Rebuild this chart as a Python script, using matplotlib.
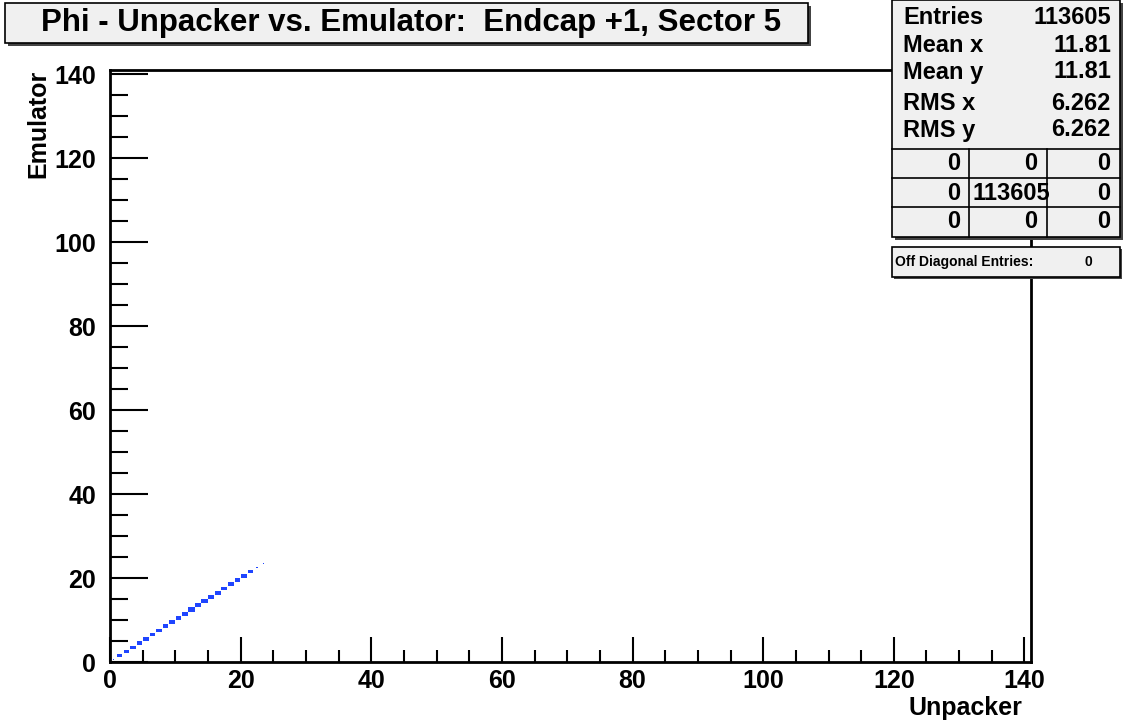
import matplotlib
matplotlib.use("Agg")
import matplotlib.pyplot as plt
from matplotlib.patches import Rectangle
from matplotlib.ticker import MultipleLocator

# unpacker phi bin index (same for emulator, everything on the diagonal)
phi_bins = list(range(24))
entries = [1200, 4600, 4800, 4900, 5000, 5000, 5100, 5100, 5200, 5200, 5300, 5300,
           5900, 5300, 6000, 5300, 5200, 5200, 6000, 5200, 4900, 4000, 2500, 1200]

title = "Phi - Unpacker vs. Emulator:  Endcap +1, Sector 5"
stat_names = ["Entries", "Mean x", "Mean y", "RMS x", "RMS y"]
stat_values = ["113605", "11.81", "11.81", "6.262", "6.262"]
grid_cells = [["0", "0", "0"], ["0", "113605", "0"], ["0", "0", "0"]]
off_diag = "0"

W, H = 1126, 725
FONT = ["Liberation Sans", "DejaVu Sans"]


def fx(x):
    return x / W


def fy(y):
    return 1 - y / H


fig = plt.figure(figsize=(W / 100, H / 100), dpi=100)
fig.patch.set_facecolor("white")

ax = fig.add_axes([fx(110), fy(662), (1031 - 110) / W, (662 - 70) / H])
ax.set_xlim(0, 141)
ax.set_ylim(0, 141)

# box drawing: side of each box scales with the bin content
zmax = max(entries)
for b, n in zip(phi_bins, entries):
    s = n / zmax
    ax.add_patch(Rectangle((b + 0.5 - s / 2, b + 0.5 - s / 2), s, s,
                           facecolor="#1f45ff", edgecolor="none"))

for sp in ax.spines.values():
    sp.set_linewidth(2)
ax.xaxis.set_major_locator(MultipleLocator(20))
ax.xaxis.set_minor_locator(MultipleLocator(5))
ax.yaxis.set_major_locator(MultipleLocator(20))
ax.yaxis.set_minor_locator(MultipleLocator(5))
ax.tick_params(axis="x", which="major", direction="in", length=18, width=1.5, pad=5)
ax.tick_params(axis="x", which="minor", direction="in", length=9, width=1.5)
ax.tick_params(axis="y", which="major", direction="in", length=27, width=1.5, pad=10)
ax.tick_params(axis="y", which="minor", direction="in", length=13, width=1.5)
for lab in ax.get_xticklabels() + ax.get_yticklabels():
    lab.set_fontfamily(FONT)
    lab.set_fontweight("bold")
    lab.set_fontsize(18)

fig.text(fx(1022), fy(708), "Unpacker", ha="right", va="center",
         fontsize=18, fontweight="bold", family=FONT)
fig.text(fx(38), fy(70), "Emulator", ha="center", va="top", rotation=90,
         fontsize=18, fontweight="bold", family=FONT)

# title box with shadow
fig.patches.append(Rectangle((fx(8), fy(46)), 803 / W, 40 / H, transform=fig.transFigure,
                             facecolor="#444444", edgecolor="none", zorder=1))
fig.patches.append(Rectangle((fx(5), fy(43)), 803 / W, 40 / H, transform=fig.transFigure,
                             facecolor="#f0f0f0", edgecolor="black", linewidth=1.2, zorder=2))
fig.text(fx(411), fy(23), title, ha="center", va="center", fontsize=22.5,
         fontweight="bold", family=FONT, zorder=3)

# stats box
bx0, bx1, by0, by1 = 892, 1120, 0, 237
fig.patches.append(Rectangle((fx(bx0 + 3), fy(by1 + 3)), (bx1 - bx0) / W, (by1 - by0) / H,
                             transform=fig.transFigure, facecolor="#444444", edgecolor="none", zorder=1))
fig.patches.append(Rectangle((fx(bx0), fy(by1)), (bx1 - bx0) / W, (by1 - by0) / H,
                             transform=fig.transFigure, facecolor="#f0f0f0", edgecolor="black",
                             linewidth=1.2, zorder=2))
row_y = [17, 45, 72, 103, 130]
for name, val, y in zip(stat_names, stat_values, row_y):
    fig.text(fx(903), fy(y), name, ha="left", va="center", fontsize=17,
             fontweight="bold", family=FONT, zorder=3)
    fig.text(fx(1111), fy(y), val, ha="right", va="center", fontsize=17,
             fontweight="bold", family=FONT, zorder=3)
line_kw = dict(color="black", linewidth=1.2, zorder=3)
for y in [149, 178, 207]:
    fig.add_artist(plt.Line2D([fx(bx0), fx(bx1)], [fy(y), fy(y)], transform=fig.transFigure, **line_kw))
for x in [969, 1047]:
    fig.add_artist(plt.Line2D([fx(x), fx(x)], [fy(149), fy(by1)], transform=fig.transFigure, **line_kw))
cell_right = [960, 1037, 1110]
cell_y = [164, 193, 222]
for row, y in zip(grid_cells, cell_y):
    for txt, xr in zip(row, cell_right):
        xpos = 1050 if len(txt) > 1 else xr
        fig.text(fx(xpos), fy(y), txt, ha="right", va="center", fontsize=17,
                 fontweight="bold", family=FONT, zorder=4)

# off diagonal box
fig.patches.append(Rectangle((fx(bx0 + 2), fy(279)), (bx1 - bx0) / W, 30 / H,
                             transform=fig.transFigure, facecolor="#444444", edgecolor="none", zorder=1))
fig.patches.append(Rectangle((fx(bx0), fy(277)), (bx1 - bx0) / W, 30 / H,
                             transform=fig.transFigure, facecolor="#f0f0f0", edgecolor="black",
                             linewidth=1.2, zorder=2))
fig.text(fx(895), fy(262), "Off Diagonal Entries:", ha="left", va="center", fontsize=10,
         fontweight="bold", family=FONT, zorder=3)
fig.text(fx(1088), fy(262), off_diag, ha="center", va="center", fontsize=10,
         fontweight="bold", family=FONT, zorder=3)

fig.savefig("out.png", dpi=100)
